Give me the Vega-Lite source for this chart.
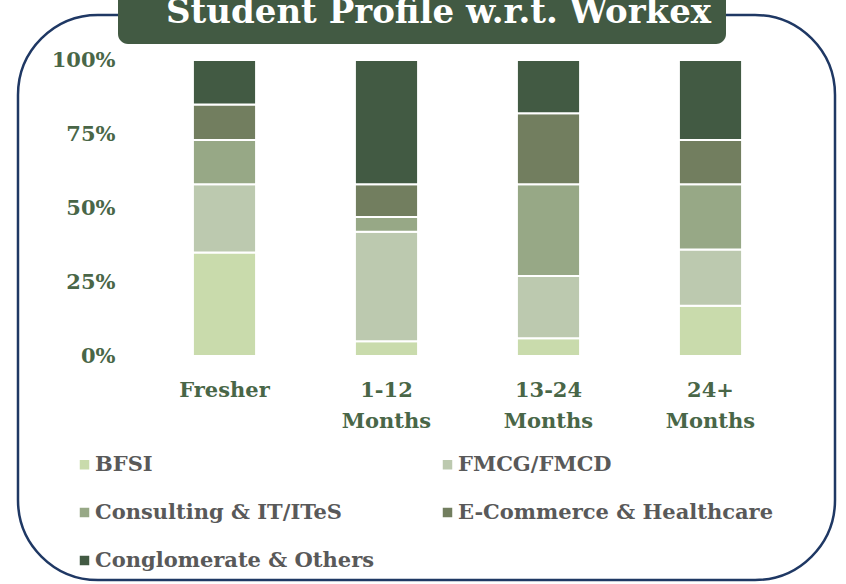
{
  "$schema": "https://vega.github.io/schema/vega-lite/v6.json",
  "autosize": "none",
  "padding": {"left": 18, "top": 15, "right": 11, "bottom": 4},
  "width": 817,
  "height": 565,
  "background": "white",
  "config": {
    "view": {"stroke": "#1F3864", "strokeWidth": 2.5, "cornerRadius": 80, "fill": "white"}
  },
  "layer": [
    {
      "data": {
        "values": [
          {"workex": "Fresher", "sector": "BFSI", "rank": 1, "pct": 35},
          {"workex": "Fresher", "sector": "FMCG/FMCD", "rank": 2, "pct": 23},
          {"workex": "Fresher", "sector": "Consulting & IT/ITeS", "rank": 3, "pct": 15},
          {"workex": "Fresher", "sector": "E-Commerce & Healthcare", "rank": 4, "pct": 12},
          {"workex": "Fresher", "sector": "Conglomerate & Others", "rank": 5, "pct": 15},
          {"workex": "1-12 Months", "sector": "BFSI", "rank": 1, "pct": 5},
          {"workex": "1-12 Months", "sector": "FMCG/FMCD", "rank": 2, "pct": 37},
          {"workex": "1-12 Months", "sector": "Consulting & IT/ITeS", "rank": 3, "pct": 5},
          {"workex": "1-12 Months", "sector": "E-Commerce & Healthcare", "rank": 4, "pct": 11},
          {"workex": "1-12 Months", "sector": "Conglomerate & Others", "rank": 5, "pct": 42},
          {"workex": "13-24 Months", "sector": "BFSI", "rank": 1, "pct": 6},
          {"workex": "13-24 Months", "sector": "FMCG/FMCD", "rank": 2, "pct": 21},
          {"workex": "13-24 Months", "sector": "Consulting & IT/ITeS", "rank": 3, "pct": 31},
          {"workex": "13-24 Months", "sector": "E-Commerce & Healthcare", "rank": 4, "pct": 24},
          {"workex": "13-24 Months", "sector": "Conglomerate & Others", "rank": 5, "pct": 18},
          {"workex": "24+ Months", "sector": "BFSI", "rank": 1, "pct": 17},
          {"workex": "24+ Months", "sector": "FMCG/FMCD", "rank": 2, "pct": 19},
          {"workex": "24+ Months", "sector": "Consulting & IT/ITeS", "rank": 3, "pct": 22},
          {"workex": "24+ Months", "sector": "E-Commerce & Healthcare", "rank": 4, "pct": 15},
          {"workex": "24+ Months", "sector": "Conglomerate & Others", "rank": 5, "pct": 27}
        ]
      },
      "mark": {"type": "bar", "stroke": "white", "strokeWidth": 2},
      "encoding": {
        "x": {
          "field": "workex",
          "type": "nominal",
          "sort": ["Fresher", "1-12 Months", "13-24 Months", "24+ Months"],
          "scale": {"range": [125.5, 773.5], "paddingInner": 0.61, "paddingOuter": 0.305},
          "axis": {
            "title": null,
            "orient": "bottom",
            "offset": -201,
            "domain": false,
            "ticks": false,
            "labelPadding": 0,
            "labelAngle": 0,
            "labelBaseline": "top",
            "labelFont": "DejaVu Serif",
            "labelFontWeight": "bold",
            "labelFontSize": 21,
            "labelColor": "#496647",
            "labelLineHeight": 31,
            "labelExpr": "split(datum.label, ' ')"
          }
        },
        "y": {
          "field": "pct",
          "type": "quantitative",
          "stack": "normalize",
          "scale": {"domain": [0, 1], "range": [341, 45], "nice": false},
          "axis": {
            "title": null,
            "orient": "left",
            "offset": -97,
            "domain": false,
            "ticks": false,
            "grid": false,
            "values": [0, 0.25, 0.5, 0.75, 1],
            "format": ".0%",
            "labelPadding": 0,
            "labelFont": "DejaVu Serif",
            "labelFontWeight": "bold",
            "labelFontSize": 21,
            "labelColor": "#496647"
          }
        },
        "order": {"field": "rank", "type": "quantitative", "sort": "ascending"},
        "color": {
          "field": "sector",
          "type": "nominal",
          "sort": ["BFSI", "FMCG/FMCD", "Consulting & IT/ITeS", "E-Commerce & Healthcare", "Conglomerate & Others"],
          "scale": {
            "domain": ["BFSI", "FMCG/FMCD", "Consulting & IT/ITeS", "E-Commerce & Healthcare", "Conglomerate & Others"],
            "range": ["#C9DBAC", "#BCC9AF", "#97A886", "#727E5F", "#425A43"]
          },
          "legend": {
            "title": null,
            "orient": "none",
            "legendX": 56,
            "legendY": 439,
            "direction": "horizontal",
            "columns": 2,
            "columnPadding": 62,
            "rowPadding": 26,
            "symbolType": "square",
            "symbolSize": 90,
            "symbolStrokeWidth": 0,
            "labelOffset": 0,
            "labelFont": "DejaVu Serif",
            "labelFontWeight": "bold",
            "labelFontSize": 21,
            "labelColor": "#595959",
            "labelLimit": 600
          }
        }
      }
    },
    {
      "data": {"values": [{"heading": "Student Profile w.r.t. Workex"}]},
      "mark": {"type": "point", "opacity": 0},
      "encoding": {
        "shape": {
          "field": "heading",
          "type": "nominal",
          "legend": {
            "title": null,
            "orient": "none",
            "legendX": 100,
            "legendY": -33,
            "fillColor": "#425A43",
            "cornerRadius": 10,
            "padding": 14,
            "symbolSize": 4,
            "symbolOpacity": 0,
            "symbolStrokeWidth": 0,
            "labelOffset": 0,
            "labelFont": "DejaVu Serif",
            "labelFontWeight": "bold",
            "labelFontSize": 34,
            "labelColor": "white",
            "labelLimit": 1000
          }
        }
      }
    }
  ]
}
